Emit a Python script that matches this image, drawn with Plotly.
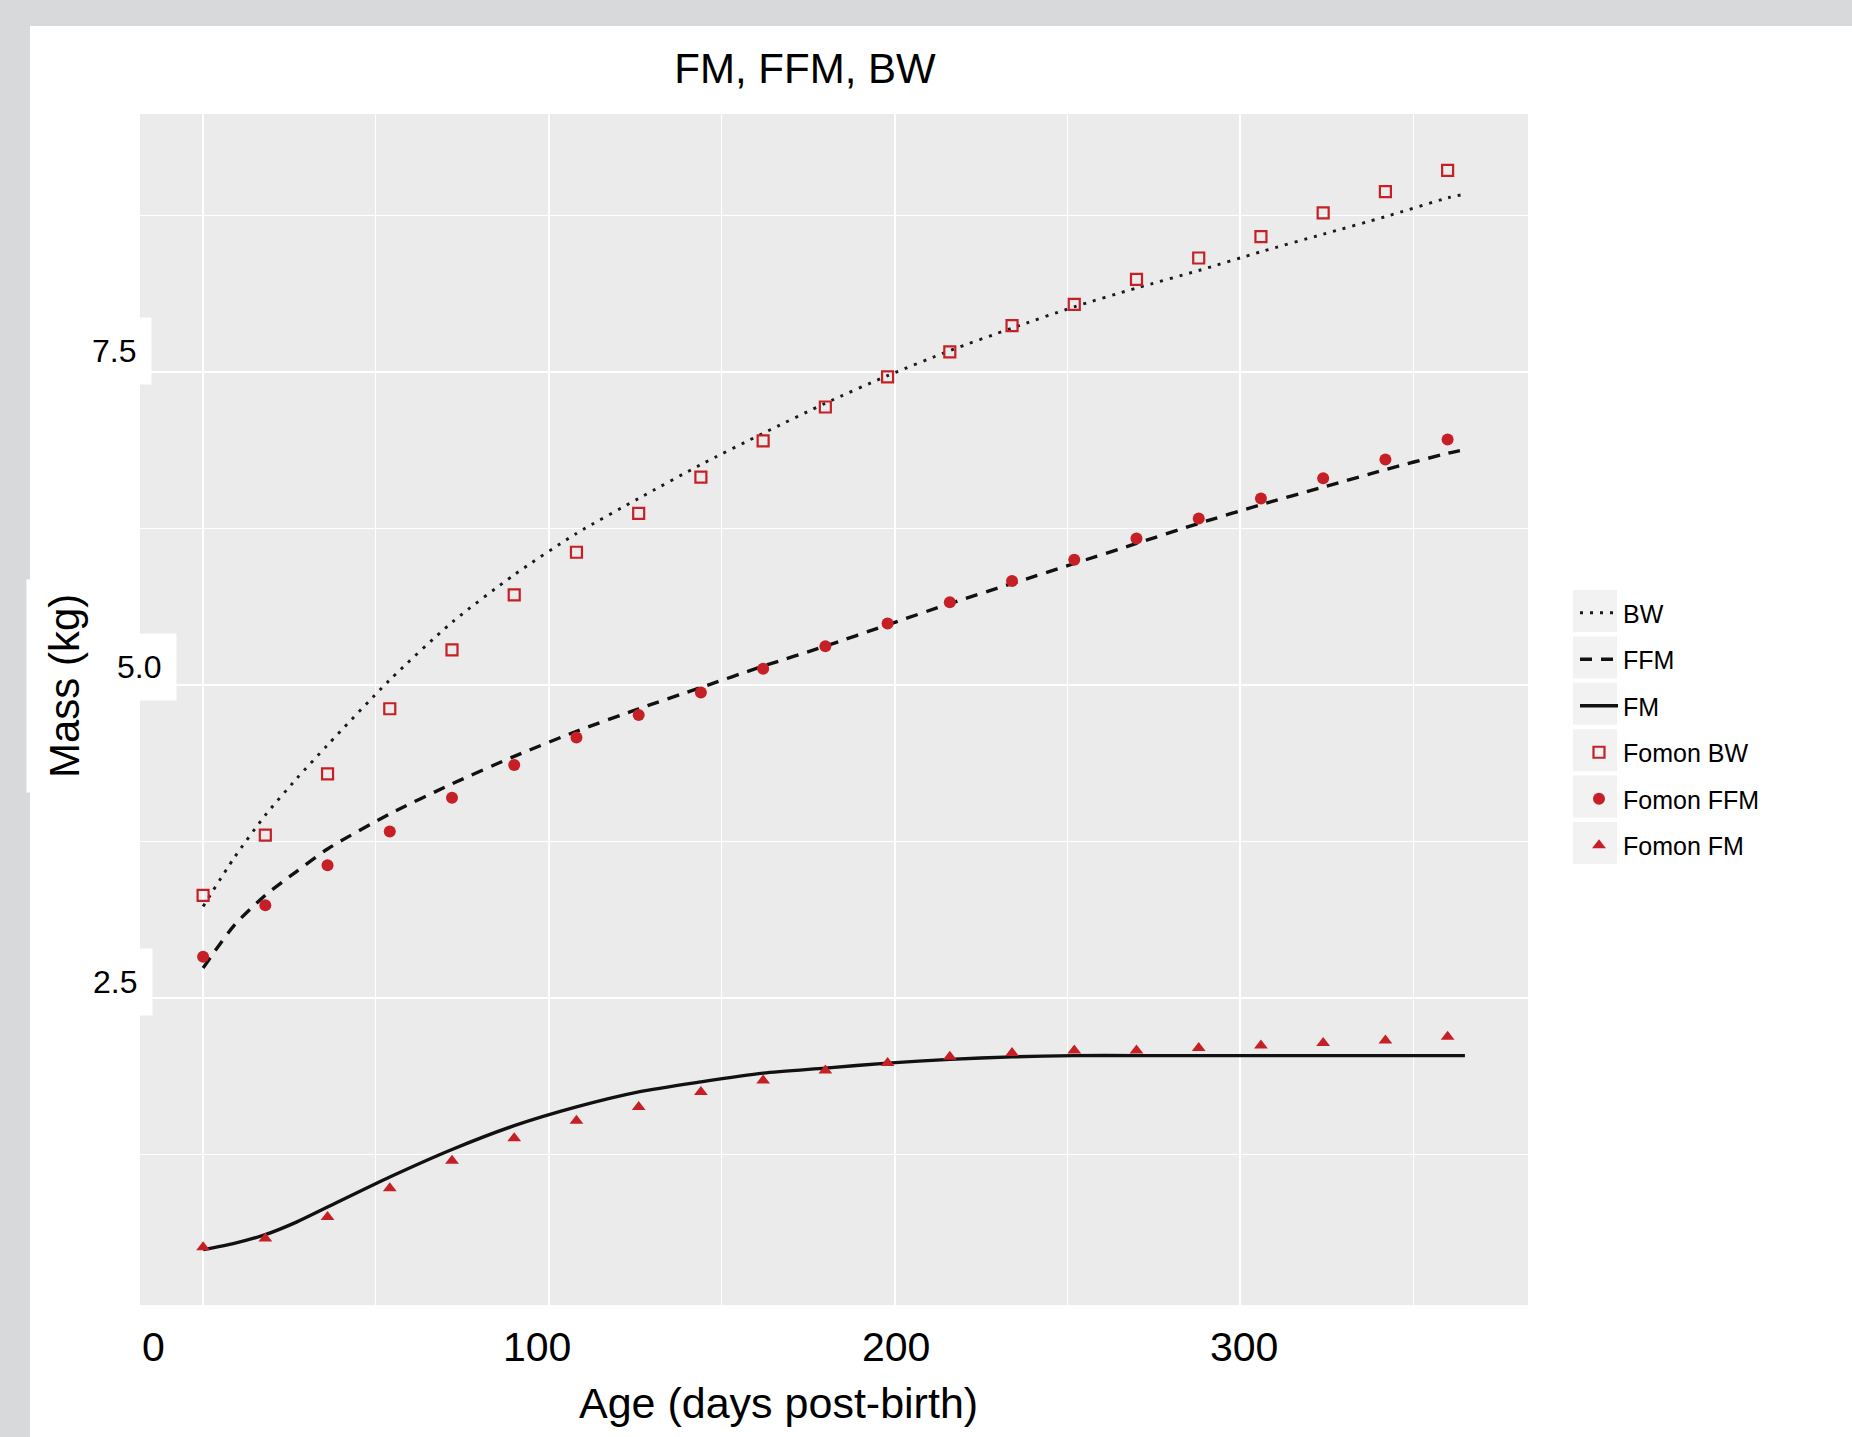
import plotly.graph_objects as go

# ---------------- data ----------------
fomon_days = [0, 18, 36, 54, 72, 90, 108, 126, 144, 162, 180, 198, 216, 234, 252, 270, 288, 306, 324, 342, 360]
fomon_bw = [3.32, 3.80, 4.29, 4.81, 5.28, 5.72, 6.06, 6.37, 6.66, 6.95, 7.22, 7.46, 7.66, 7.87, 8.04, 8.24, 8.41, 8.58, 8.77, 8.94, 9.11]
fomon_ffm = [2.83, 3.24, 3.56, 3.83, 4.10, 4.36, 4.58, 4.76, 4.94, 5.13, 5.31, 5.49, 5.66, 5.83, 6.00, 6.17, 6.33, 6.49, 6.65, 6.80, 6.96]
fomon_fm = [0.51, 0.58, 0.75, 0.98, 1.20, 1.38, 1.52, 1.63, 1.75, 1.84, 1.92, 1.98, 2.03, 2.06, 2.08, 2.08, 2.10, 2.12, 2.14, 2.16, 2.19]

model_days = [0, 9, 18, 27, 36, 54, 72, 90, 108, 126, 144, 162, 180, 198, 216, 234, 252, 270, 288, 306, 324, 342, 360, 365]
model_bw = [3.23, 3.62, 3.96, 4.25, 4.52, 5.04, 5.50, 5.88, 6.21, 6.49, 6.76, 7.01, 7.25, 7.47, 7.67, 7.85, 8.02, 8.17, 8.31, 8.46, 8.60, 8.74, 8.89, 8.92]
model_ffm = [2.74, 3.08, 3.32, 3.51, 3.69, 3.97, 4.21, 4.43, 4.63, 4.81, 4.98, 5.15, 5.31, 5.48, 5.65, 5.81, 5.97, 6.13, 6.29, 6.44, 6.58, 6.72, 6.85, 6.88]
model_fm = [0.49, 0.54, 0.61, 0.71, 0.83, 1.07, 1.29, 1.48, 1.63, 1.75, 1.83, 1.90, 1.94, 1.98, 2.01, 2.03, 2.04, 2.04, 2.04, 2.04, 2.04, 2.04, 2.04, 2.04]

x_tick_vals = [0, 100, 200, 300]
x_tick_text = ["0", "100", "200", "300"]
y_tick_vals = [2.5, 5.0, 7.5]
y_tick_text = ["2.5", "5.0", "7.5"]

title_text = "FM, FFM, BW"
x_title = "Age (days post-birth)"
y_title = "Mass (kg)"

# ---------------- layout geometry (pixels) ----------------
W, H = 1852, 1437
L, R, T, B = 140, 1528, 114, 1305          # panel edges in pixels
FONT = "Liberation Sans, Arial, Helvetica, sans-serif"
RED = "#C62026"
PANEL = "#EBEBEB"
KEYBG = "#F2F2F2"
BAND = "#D8D9DB"


def fx(px):
    return (px - L) / (R - L)


def fy(py):
    return (B - py) / (B - T)


fig = go.Figure()

# model curves
fig.add_trace(go.Scatter(x=model_days, y=model_bw, mode="lines", name="BW",
                         line=dict(color="#1a1a1a", width=2.9, dash="3px,7px", shape="spline", smoothing=0.7),
                         legendgroup="a"))
fig.add_trace(go.Scatter(x=model_days, y=model_ffm, mode="lines", name="FFM",
                         line=dict(color="#111111", width=3.4, dash="12px,9px", shape="spline", smoothing=0.7),
                         legendgroup="b"))
fig.add_trace(go.Scatter(x=model_days, y=model_fm, mode="lines", name="FM",
                         line=dict(color="#111111", width=3.4, shape="spline", smoothing=0.7),
                         legendgroup="c"))

# Fomon reference points
fig.add_trace(go.Scatter(x=fomon_days, y=fomon_bw, mode="markers", name="Fomon BW",
                         marker=dict(symbol="square-open", size=11, color=RED, line=dict(width=2.2, color=RED)),
                         legendgroup="d"))
fig.add_trace(go.Scatter(x=fomon_days, y=fomon_ffm, mode="markers", name="Fomon FFM",
                         marker=dict(symbol="circle", size=12, color=RED),
                         legendgroup="e"))
fig.add_trace(go.Scatter(x=fomon_days, y=fomon_fm, mode="markers", name="Fomon FM",
                         marker=dict(symbol="triangle-up", size=12, color=RED),
                         legendgroup="f"))

shapes = [
    # grey frame bands (top and left)
    dict(type="rect", xref="paper", yref="paper", x0=fx(0), x1=fx(W), y0=fy(26), y1=fy(0),
         fillcolor=BAND, line=dict(width=0), layer="below"),
    dict(type="rect", xref="paper", yref="paper", x0=fx(0), x1=fx(30), y0=fy(H), y1=fy(0),
         fillcolor=BAND, line=dict(width=0), layer="below"),
]
# legend key backgrounds
key_top, key_pitch, key_h = 590, 46.4, 42
for i in range(6):
    shapes.append(dict(type="rect", xref="paper", yref="paper",
                       x0=fx(1573), x1=fx(1617),
                       y0=fy(key_top + i * key_pitch + key_h), y1=fy(key_top + i * key_pitch),
                       fillcolor=KEYBG, line=dict(width=0), layer="above"))

annotations = []
# x tick labels
x_label_shift = [-50, -12, 1, 4]
for v, t, s in zip(x_tick_vals, x_tick_text, x_label_shift):
    annotations.append(dict(x=v, xref="x", y=fy(1347), yref="paper", text=t, showarrow=False,
                            xanchor="center", yanchor="middle", xshift=s,
                            font=dict(family=FONT, size=41, color="#000000")))
# y tick labels (white label boxes)
y_label_xshift = [13, 37, 12]
y_label_yshift = [16, 18, 21]
for v, t, sx, sy in zip(y_tick_vals, y_tick_text, y_label_xshift, y_label_yshift):
    annotations.append(dict(x=0, xref="paper", y=v, yref="y", text=t, showarrow=False,
                            xanchor="right", yanchor="middle", xshift=sx, yshift=sy,
                            bgcolor="#FFFFFF", borderpad=15,
                            font=dict(family=FONT, size=32, color="#000000")))
# axis titles
annotations.append(dict(x=fx(778), xref="paper", y=fy(1403), yref="paper", text=x_title, showarrow=False,
                        xanchor="center", yanchor="middle",
                        font=dict(family=FONT, size=43, color="#000000")))
annotations.append(dict(x=fx(64), xref="paper", y=fy(686), yref="paper", text=y_title, showarrow=False,
                        xanchor="center", yanchor="middle", textangle=-90,
                        bgcolor="#FFFFFF", borderpad=14,
                        font=dict(family=FONT, size=42, color="#000000")))

fig.update_layout(
    width=W, height=H,
    margin=dict(l=L, r=W - R, t=T, b=H - B, autoexpand=False),
    paper_bgcolor="#FFFFFF",
    plot_bgcolor=PANEL,
    title=dict(text=title_text, x=805 / W, y=1 - 68 / H, xref="container", yref="container",
               xanchor="center", yanchor="middle",
               font=dict(family=FONT, size=42, color="#000000")),
    font=dict(family=FONT, color="#000000"),
    xaxis=dict(range=[-18.25, 383.25], tickvals=x_tick_vals, showticklabels=False, ticks="",
               showgrid=True, gridcolor="#FFFFFF", gridwidth=2.4, zeroline=False, showline=False,
               minor=dict(dtick=50, tick0=0, showgrid=True, gridcolor="#FFFFFF", gridwidth=1.2)),
    yaxis=dict(range=[0.048, 9.56], tickvals=y_tick_vals, showticklabels=False, ticks="",
               showgrid=True, gridcolor="#FFFFFF", gridwidth=2.4, zeroline=False, showline=False,
               minor=dict(dtick=1.25, tick0=0, showgrid=True, gridcolor="#FFFFFF", gridwidth=1.2)),
    showlegend=True,
    legend=dict(x=fx(1575), y=fy(590), xanchor="left", yanchor="top",
                traceorder="grouped", tracegroupgap=11, itemwidth=38,
                bgcolor="rgba(0,0,0,0)", borderwidth=0,
                font=dict(family=FONT, size=25, color="#000000")),
    shapes=shapes,
    annotations=annotations,
)

fig.write_html("out.html",
               config={"displayModeBar": False},
               post_script="document.body.style.margin='0';document.body.style.overflow='hidden';")
